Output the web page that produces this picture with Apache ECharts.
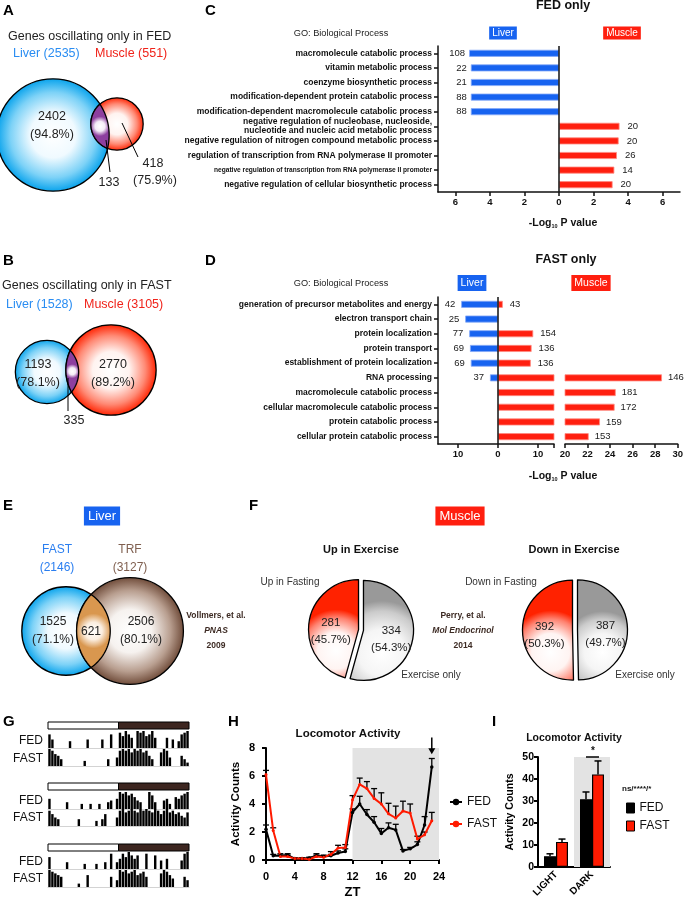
<!DOCTYPE html>
<html>
<head>
<meta charset="utf-8">
<script src="https://cdn.jsdelivr.net/npm/echarts@6/dist/echarts.min.js"></script>
<style>
html, body { margin: 0; padding: 0; background: #fff; }
#main { width: 686px; height: 900px; }
</style>
</head>
<body>
<div id="main"></div>
<script>
const FONT = '"Liberation Sans", Arial, Helvetica, sans-serif';
const BLUE = '#1763f0', RED = '#ff1f0f';

// A / B / E venn counts
const aSets = [2535, 551];          // liver, muscle (FED only)
const aParts = [2402, 133, 418];    // liver only, both, muscle only
const bSets = [1528, 3105];
const bParts = [1193, 335, 2770];
const eSets = [2146, 3127];         // FAST, TRF
const eParts = [1525, 621, 2506];

// C: FED only GO terms
const cTerms = [
    'macromolecule catabolic process',
    'vitamin metabolic process',
    'coenzyme biosynthetic process',
    'modification-dependent protein catabolic process',
    'modification-dependent macromolecule catabolic process',
    'negative regulation of nucleobase, nucleoside,\nnucleotide and nucleic acid metabolic process',
    'negative regulation of nitrogen compound metabolic process',
    'regulation of transcription from RNA polymerase II promoter',
    'negative regulation of transcription from RNA polymerase II promoter',
    'negative regulation of cellular biosynthetic process'
];
const cLiver = [5.2, 5.1, 5.1, 5.1, 5.1, null, null, null, null, null];
const cLiverN = [108, 22, 21, 88, 88, null, null, null, null, null];
const cMuscle = [null, null, null, null, null, 3.5, 3.45, 3.35, 3.2, 3.1];
const cMuscleN = [null, null, null, null, null, 20, 20, 26, 14, 20];
const cTicks = [-6, -4, -2, 0, 2, 4, 6];

// D: FAST only GO terms
const dTerms = [
    'generation of precursor metabolites and energy',
    'electron transport chain',
    'protein localization',
    'protein transport',
    'establishment of protein localization',
    'RNA processing',
    'macromolecule catabolic process',
    'cellular macromolecule catabolic process',
    'protein catabolic process',
    'cellular protein catabolic process'
];
const dLiver = [9.2, 8.2, 7.2, 7.0, 6.8, 2.0, null, null, null, null];
const dLiverN = [42, 25, 77, 69, 69, 37, null, null, null, null];
const dMuscle = [1.2, null, 8.8, 8.4, 8.2, 28.6, 24.5, 24.4, 23.1, 22.1];
const dMuscleN = [43, null, 154, 136, 136, 146, 181, 172, 159, 153];
const dLabels1 = [-10, 0, 10];
const dTicks1 = [-10, 0, 10, 14];

// F: exercise pies
const fUp = [281, 334];
const fDown = [392, 387];

// G: actograms (48 bins per row, 0-10)
const gBins = Array.from({ length: 48 }, (_, i) => i);
const gFed1 = [8,5,0,0,0,0,0,4,0,0, 0,0,0,5,0,0,0,0,5,0, 0,8,0,0,9,7,10,8,6,0, 10,9,10,7,8,10,6,0,0,0, 6,0,5,0,4,8,9,10];
const gFast1 = [10,9,7,6,4,0,0,0,0,0, 0,0,3,0,0,0,0,0,0,0, 4,0,0,5,9,10,9,10,8,10, 9,10,8,9,6,4,0,0,8,10, 9,5,0,0,0,6,4,2];
const gFed2 = [6,0,0,0,0,0,4,0,0,0, 0,3,0,0,3,0,0,3,0,0, 4,5,0,6,10,9,10,8,9,7, 5,4,0,0,10,8,4,0,0,5, 6,3,0,7,6,8,9,10];
const gFast2 = [9,7,5,4,0,0,0,0,0,0, 4,0,0,0,0,0,3,0,4,7, 0,0,0,5,9,10,8,9,10,9, 8,10,9,10,9,8,10,9,7,9, 10,8,9,7,8,6,5,8];
const gFed3 = [7,0,0,0,0,0,4,0,0,0, 0,0,3,0,0,0,3,0,0,4, 0,9,0,4,6,9,7,10,8,6, 8,0,0,9,0,0,8,0,5,0, 6,0,0,0,0,5,9,10];
const gFast3 = [10,9,8,7,6,0,0,0,0,0, 2,0,0,7,0,0,0,0,0,0, 0,6,0,4,10,9,10,8,9,10, 7,8,9,6,0,0,0,0,8,10, 9,7,5,0,0,0,6,4];
const gRows = [gFed1, gFast1, gFed2, gFast2, gFed3, gFast3];

// H: locomotor activity by ZT
const hZt = [0,1,2,3,4,5,6,7,8,9,10,11,12,13,14,15,16,17,18,19,20,21,22,23];
const hFed = [2.2,0.3,0.3,0.35,0.1,0.1,0.15,0.3,0.25,0.3,0.5,0.6,3.4,4.0,3.25,2.7,1.9,2.3,2.15,0.65,0.8,1.1,2.5,6.65];
const hFedErr = [0.3,0.1,0.15,0.1,0.05,0.05,0.05,0.15,0.1,0.1,0.15,0.2,0.25,0.55,0.35,0.4,0.35,0.35,0.4,0.1,0.1,0.2,0.6,0.6];
const hFast = [6.1,2.1,0.25,0.25,0.1,0.1,0.05,0.25,0.2,0.4,0.85,0.9,4.3,5.4,5.1,4.4,4.0,3.3,3.0,3.5,3.35,1.5,1.8,2.8];
const hFastErr = [0.3,0.2,0.1,0.1,0.05,0.05,0.05,0.1,0.1,0.2,0.2,0.2,0.3,0.45,0.5,0.7,0.8,0.75,0.85,0.7,0.65,0.2,0.2,0.6];
const hArrow = [[23, 8.75, 7.55]];   // ZT, arrow top, arrow tip

// I: light / dark totals
const iCats = ['LIGHT', 'DARK'];
const iFed = [4.9, 30.8];
const iFedErr = [1.1, 3.3];
const iFast = [11.4, 42.1];
const iFastErr = [1.3, 6.1];

const chart = echarts.init(document.getElementById('main'));

function radial(stops) {
    return new echarts.graphic.RadialGradient(0.5, 0.5, 0.5, stops.map(([o, c]) => ({ offset: o, color: c })));
}
const blueFill = () => radial([[0, '#ffffff'], [0.4, '#f0faff'], [0.75, '#7dd2f7'], [1, '#06a2ec']]);
const redFill = () => radial([[0, '#ffffff'], [0.4, '#fff3f0'], [0.75, '#ff8a75'], [1, '#ff2200']]);
const brownFill = () => radial([[0, '#ffffff'], [0.4, '#f6f2ef'], [0.75, '#b89e8f'], [1, '#6e4a38']]);
const purpleFill = () => radial([[0, '#ffffff'], [0.5, '#f4ecf7'], [1, '#8d3f9f']]);
const orangeFill = () => radial([[0, '#ffffff'], [0.5, '#fbeee0'], [1, '#d9974f']]);

function txt(x, y, text, o) {
    return {
        type: 'text', x, y, silent: true, z: 50,
        style: Object.assign({ text, fontFamily: FONT, fontSize: 12, fill: '#222', align: 'center', verticalAlign: 'middle' }, o || {})
    };
}
function box(x, y, text, color, size, pad) {
    return txt(x, y, text, { fill: '#fff', backgroundColor: color, fontSize: size, padding: pad });
}
function ln(x1, y1, x2, y2, w) {
    return { type: 'line', silent: true, z: 50, shape: { x1, y1, x2, y2 }, style: { stroke: '#000', lineWidth: w || 1 } };
}
function circ(c, fill) {
    return { type: 'circle', silent: true, z: 10, shape: { cx: c[0], cy: c[1], r: c[2] }, style: { fill, stroke: '#000', lineWidth: 1.3 } };
}
// overlap region of two circles as a polygon
function lens(c1, c2, fill) {
    const dx = c2[0] - c1[0], dy = c2[1] - c1[1], d = Math.hypot(dx, dy);
    const th = Math.atan2(dy, dx);
    const a1 = (d * d + c1[2] * c1[2] - c2[2] * c2[2]) / (2 * d);
    const al1 = Math.acos(a1 / c1[2]);
    const al2 = Math.acos((d - a1) / c2[2]);
    const pts = [];
    for (let i = 0; i <= 40; i++) {
        const a = th - al1 + 2 * al1 * i / 40;
        pts.push([c1[0] + c1[2] * Math.cos(a), c1[1] + c1[2] * Math.sin(a)]);
    }
    for (let i = 0; i <= 40; i++) {
        const a = th + Math.PI - al2 + 2 * al2 * i / 40;
        pts.push([c2[0] + c2[2] * Math.cos(a), c2[1] + c2[2] * Math.sin(a)]);
    }
    return { type: 'polygon', silent: true, z: 11, shape: { points: pts }, style: { fill, stroke: '#000', lineWidth: 1.3 } };
}
const pct = (part, whole) => '(' + (part / whole * 100).toFixed(1) + '%)';

// venn circles, area proportional to the set size
const aL = [53, 135, 1.115 * Math.sqrt(aSets[0])], aM = [117, 124, 1.115 * Math.sqrt(aSets[1])];
const bL = [47, 372, 0.81 * Math.sqrt(bSets[0])], bM = [111, 370, 0.81 * Math.sqrt(bSets[1])];
const eF = [66, 631, 0.955 * Math.sqrt(eSets[0])], eT = [130, 631, 0.955 * Math.sqrt(eSets[1])];

const letter = (x, y, s) => txt(x, y, s, { fontSize: 15, fontWeight: 'bold', fill: '#000', align: 'left' });
const logTitle = (x, y) => txt(x, y, '-Log{s|10} P value', {
    fontSize: 10.5, fontWeight: 'bold', fill: '#111',
    rich: { s: { fontSize: 5.5, fontWeight: 'bold', fontFamily: FONT, fill: '#111', verticalAlign: 'bottom', padding: [6, 0, 0, 0] } }
});

const graphics = [
    letter(3, 11, 'A'), letter(205, 11, 'C'), letter(3, 261, 'B'), letter(205, 261, 'D'),
    letter(3, 506, 'E'), letter(249, 506, 'F'), letter(3, 722, 'G'), letter(228, 722, 'H'), letter(492, 722, 'I'),

    // A
    txt(8, 37, 'Genes oscillating only in FED', { align: 'left', fontSize: 12.5 }),
    txt(13, 54, `Liver (${aSets[0]})`, { align: 'left', fontSize: 12.5, fill: '#2a8df2' }),
    txt(95, 54, `Muscle (${aSets[1]})`, { align: 'left', fontSize: 12.5, fill: '#f0231a' }),
    circ(aL, blueFill()), circ(aM, redFill()), lens(aL, aM, purpleFill()),
    txt(52, 117, String(aParts[0]), { fontSize: 12.5 }), txt(52, 135, pct(aParts[0], aSets[0]), { fontSize: 12.5 }),
    ln(106, 140, 110, 172), txt(109, 183, String(aParts[1]), { fontSize: 12.5 }),
    ln(122, 123, 138, 157), txt(153, 164, String(aParts[2]), { fontSize: 12.5 }), txt(155, 181, pct(aParts[2], aSets[1]), { fontSize: 12.5 }),

    // B
    txt(2, 286, 'Genes oscillating only in FAST', { align: 'left', fontSize: 12.5 }),
    txt(6, 305, `Liver (${bSets[0]})`, { align: 'left', fontSize: 12.5, fill: '#2a8df2' }),
    txt(84, 305, `Muscle (${bSets[1]})`, { align: 'left', fontSize: 12.5, fill: '#f0231a' }),
    circ(bL, blueFill()), circ(bM, redFill()), lens(bL, bM, purpleFill()),
    txt(38, 365, String(bParts[0]), { fontSize: 12.5 }), txt(38, 383, pct(bParts[0], bSets[0]), { fontSize: 12.5 }),
    txt(113, 365, String(bParts[2]), { fontSize: 12.5 }), txt(113, 383, pct(bParts[2], bSets[1]), { fontSize: 12.5 }),
    ln(68, 378, 68, 411), txt(74, 421, String(bParts[1]), { fontSize: 12.5 }),

    // C headers
    txt(563, 6, 'FED only', { fontSize: 12.5, fontWeight: 'bold', fill: '#111' }),
    txt(341, 33, 'GO: Biological Process', { fontSize: 9.2 }),
    box(503, 33, 'Liver', BLUE, 10, [2, 3, 1, 3]), box(622, 33, 'Muscle', RED, 10, [2, 3, 1, 3]),
    logTitle(563, 223),

    // D headers
    txt(566, 260, 'FAST only', { fontSize: 12.5, fontWeight: 'bold', fill: '#111' }),
    txt(341, 283, 'GO: Biological Process', { fontSize: 9.2 }),
    box(472, 283, 'Liver', BLUE, 10.5, [3, 3, 2, 3]), box(591, 283, 'Muscle', RED, 10.5, [3, 3, 2, 3]),
    logTitle(563, 476),

    // E
    box(102, 516, 'Liver', BLUE, 13, [3, 4, 3, 4]),
    txt(57, 550, 'FAST', { fill: '#2a7ef0' }), txt(57, 568, `(${eSets[0]})`, { fill: '#2a7ef0' }),
    txt(130, 550, 'TRF', { fill: '#7f5f4f' }), txt(130, 568, `(${eSets[1]})`, { fill: '#7f5f4f' }),
    circ(eF, blueFill()), circ(eT, brownFill()), lens(eF, eT, orangeFill()),
    txt(53, 622, String(eParts[0])), txt(53, 640, pct(eParts[0], eSets[0])),
    txt(91, 632, String(eParts[1])),
    txt(141, 622, String(eParts[2])), txt(141, 640, pct(eParts[2], eSets[1])),
    txt(216, 616, 'Vollmers, et al.', { fontSize: 8.5, fontWeight: 'bold', fill: '#3d2b24' }),
    txt(216, 631, 'PNAS', { fontSize: 8.5, fontWeight: 'bold', fontStyle: 'italic', fill: '#3d2b24' }),
    txt(216, 646, '2009', { fontSize: 8.5, fontWeight: 'bold', fill: '#3d2b24' }),

    // F
    box(460, 516, 'Muscle', RED, 13, [3, 4, 3, 4]),
    txt(361, 550, 'Up in Exercise', { fontSize: 11, fontWeight: 'bold', fill: '#111' }),
    txt(574, 550, 'Down in Exercise', { fontSize: 11, fontWeight: 'bold', fill: '#111' }),
    txt(290, 582, 'Up in Fasting', { fontSize: 10, fill: '#333' }),
    txt(501, 582, 'Down in Fasting', { fontSize: 10, fill: '#333' }),
    txt(431, 675, 'Exercise only', { fontSize: 10, fill: '#333' }),
    txt(645, 675, 'Exercise only', { fontSize: 10, fill: '#333' }),
    txt(463, 616, 'Perry, et al.', { fontSize: 8.5, fontWeight: 'bold', fill: '#3d2b24' }),
    txt(463, 631, 'Mol Endocrinol', { fontSize: 8.5, fontWeight: 'bold', fontStyle: 'italic', fill: '#3d2b24' }),
    txt(463, 646, '2014', { fontSize: 8.5, fontWeight: 'bold', fill: '#3d2b24' }),

    // H / I titles
    txt(348, 734, 'Locomotor Activity', { fontSize: 11.5, fontWeight: 'bold', fill: '#111' }),
    txt(574, 738, 'Locomotor Activity', { fontSize: 10.5, fontWeight: 'bold', fill: '#111' }),
    ln(586, 757, 599, 757, 1.5), txt(593, 751, '*', { fontSize: 10, fontWeight: 'bold', fill: '#111' }),
    txt(622, 789, 'ns/****/*', { fontSize: 8, fontWeight: 'bold', fill: '#111', align: 'left' })
];

// G: light/dark bars and row labels
[722, 783, 844].forEach(y => {
    graphics.push({ type: 'rect', silent: true, shape: { x: 48, y, width: 70.5, height: 7 }, style: { fill: '#fff', stroke: '#000', lineWidth: 1 } });
    graphics.push({ type: 'rect', silent: true, shape: { x: 118.5, y, width: 70.5, height: 7 }, style: { fill: '#3d2620', stroke: '#000', lineWidth: 1 } });
});
[[741, 'FED'], [759, 'FAST'], [801, 'FED'], [818, 'FAST'], [862, 'FED'], [879, 'FAST']].forEach(([y, s]) => {
    graphics.push(txt(43, y, s, { fontSize: 12, align: 'right', fill: '#111' }));
});

// grids
const grids = [
    { left: 438, top: 46, width: 242, height: 146 },   // C
    { left: 438, top: 297, width: 116, height: 147 },  // D left segment
    { left: 565, top: 297, width: 116, height: 147 },  // D right segment
    { left: 266, top: 748, width: 173, height: 113 },  // H
    { left: 538, top: 757, width: 72, height: 110 }    // I
];
const gTops = [731, 749, 792, 809, 852, 870];
gTops.forEach(t => grids.push({ left: 48, top: t, width: 141, height: 17 }));

const axLine = { show: true, lineStyle: { color: '#111', width: 1.5 } };
const axTick = { show: true, length: 4, lineStyle: { color: '#111', width: 1.5 } };
const tickLbl = { fontFamily: FONT, fontWeight: 'bold', fontSize: 9.5, color: '#111', margin: 5 };
const catLbl = {
    fontFamily: FONT, fontWeight: 'bold', fontSize: 8.5, color: '#111', margin: 6, lineHeight: 9.5,
    rich: { s: { fontFamily: FONT, fontWeight: 'bold', fontSize: 6.6, color: '#111' } }
};
const prismLine = { show: true, lineStyle: { color: '#000', width: 2 } };
const prismTick = { show: true, length: 4, lineStyle: { color: '#000', width: 2 } };
const prismLbl = { fontFamily: FONT, fontWeight: 'bold', fontSize: 11, color: '#000', margin: 4 };

const xAxes = [
    { gridIndex: 0, type: 'value', min: -7, max: 7, splitLine: { show: false }, axisLine: axLine,
      axisTick: Object.assign({ customValues: cTicks }, axTick),
      axisLabel: Object.assign({ customValues: cTicks, formatter: v => Math.abs(v) }, tickLbl) },
    { gridIndex: 1, type: 'value', min: -15, max: 14, splitLine: { show: false }, axisLine: axLine,
      axisTick: Object.assign({ customValues: dTicks1 }, axTick),
      axisLabel: Object.assign({ customValues: dLabels1, formatter: v => Math.abs(v) }, tickLbl) },
    { gridIndex: 2, type: 'value', min: 20, max: 30, interval: 2, splitLine: { show: false }, axisLine: axLine,
      axisTick: axTick, axisLabel: tickLbl },
    { gridIndex: 3, type: 'value', min: 0, max: 24, interval: 4, offset: 7, splitLine: { show: false },
      axisLine: prismLine, axisTick: prismTick, axisLabel: prismLbl,
      name: 'ZT', nameLocation: 'middle', nameGap: 19,
      nameTextStyle: { fontFamily: FONT, fontWeight: 'bold', fontSize: 13, color: '#000' } },
    { gridIndex: 4, type: 'category', data: iCats, axisLine: prismLine, axisTick: { show: false },
      axisLabel: Object.assign({}, prismLbl, { rotate: 45, fontSize: 10, interval: 0, margin: 6 }) },
    { gridIndex: 4, type: 'category', data: iCats, show: false }
];
const yAxes = [
    { gridIndex: 0, type: 'category', data: cTerms, inverse: true,
      axisLine: Object.assign({ onZero: false }, axLine), axisTick: Object.assign({ alignWithLabel: true }, axTick),
      axisLabel: Object.assign({ formatter: (v, i) => i === 8 ? '{s|' + v + '}' : v }, catLbl) },
    { gridIndex: 1, type: 'category', data: dTerms, inverse: true,
      axisLine: Object.assign({ onZero: false }, axLine), axisTick: Object.assign({ alignWithLabel: true }, axTick),
      axisLabel: catLbl },
    { gridIndex: 2, type: 'category', data: dTerms, inverse: true, show: false },
    { gridIndex: 3, type: 'value', min: 0, max: 8, interval: 2, offset: 7, splitLine: { show: false },
      axisLine: prismLine, axisTick: prismTick, axisLabel: prismLbl,
      name: 'Activity Counts', nameLocation: 'middle', nameGap: 17,
      nameTextStyle: { fontFamily: FONT, fontWeight: 'bold', fontSize: 11.5, color: '#000' } },
    { gridIndex: 4, type: 'value', min: 0, max: 50, interval: 10, splitLine: { show: false },
      axisLine: prismLine, axisTick: prismTick, axisLabel: Object.assign({}, prismLbl, { fontSize: 10.5 }),
      name: 'Activity Counts', nameLocation: 'middle', nameGap: 22,
      nameTextStyle: { fontFamily: FONT, fontWeight: 'bold', fontSize: 10.5, color: '#000' } }
];
gRows.forEach((row, k) => {
    xAxes.push({ gridIndex: 5 + k, type: 'category', data: gBins, axisLabel: { show: false }, axisTick: { show: false },
                 axisLine: { show: true, lineStyle: { color: '#c8c8c8', width: 0.8 } } });
    yAxes.push({ gridIndex: 5 + k, type: 'value', min: 0, max: 10, show: false });
});

const valLbl = { show: true, fontFamily: FONT, fontSize: 9.5, color: '#222' };
const zeroLine = {
    silent: true, symbol: ['none', 'none'], label: { show: false },
    lineStyle: { color: '#111', width: 1.5, type: 'solid' }, data: [{ xAxis: 0 }]
};
const blueBar = { color: BLUE, borderColor: '#86a9f7', borderWidth: 0.8 };
const redBar = { color: RED, borderColor: '#ff8a80', borderWidth: 0.8 };
const dash = v => (v == null ? '-' : v);

function hErr(name, vals, errs) {
    return {
        type: 'custom', name, xAxisIndex: 3, yAxisIndex: 3, silent: true, z: 3,
        encode: { x: 0, y: 1 },
        data: vals.map((v, i) => [hZt[i], v, errs[i]]),
        renderItem: (params, api) => {
            const p = api.coord([api.value(0), api.value(1)]);
            const t = api.coord([api.value(0), api.value(1) + api.value(2)]);
            const st = { stroke: '#000', lineWidth: 1.3 };
            return { type: 'group', children: [
                { type: 'line', shape: { x1: p[0], y1: p[1], x2: t[0], y2: t[1] }, style: st },
                { type: 'line', shape: { x1: t[0] - 3, y1: t[1], x2: t[0] + 3, y2: t[1] }, style: st }
            ] };
        }
    };
}
function iErr(name, vals, errs, off) {
    return {
        type: 'custom', name, xAxisIndex: 4, yAxisIndex: 4, silent: true, z: 4,
        encode: { x: 0, y: 1 },
        data: vals.map((v, i) => [i, v, errs[i]]),
        renderItem: (params, api) => {
            const p = api.coord([api.value(0), api.value(1)]);
            const t = api.coord([api.value(0), api.value(1) + api.value(2)]);
            const x = p[0] + off;
            const st = { stroke: '#000', lineWidth: 1.5 };
            return { type: 'group', children: [
                { type: 'line', shape: { x1: x, y1: p[1], x2: x, y2: t[1] }, style: st },
                { type: 'line', shape: { x1: x - 3.5, y1: t[1], x2: x + 3.5, y2: t[1] }, style: st }
            ] };
        }
    };
}
function pieSeries(center, vals) {
    const redSlice = new echarts.graphic.RadialGradient(0.55, 0.72, 0.8, [
        { offset: 0, color: '#ffffff' }, { offset: 0.45, color: '#fff4f2' }, { offset: 0.8, color: '#ff8270' }, { offset: 1, color: '#ff2200' }]);
    const greySlice = new echarts.graphic.RadialGradient(0.5, 0.72, 0.8, [
        { offset: 0, color: '#ffffff' }, { offset: 0.45, color: '#f5f5f5' }, { offset: 0.8, color: '#cbcbcb' }, { offset: 1, color: '#999999' }]);
    return {
        type: 'pie', center, radius: 50, startAngle: 90, clockwise: false, silent: true,
        selectedMode: 'multiple', selectedOffset: 2.5, percentPrecision: 1,
        itemStyle: { borderColor: '#000', borderWidth: 1.3 },
        label: { position: 'inside', formatter: '{c}\n({d}%)', fontFamily: FONT, fontSize: 11.5, lineHeight: 17, color: '#222' },
        labelLayout: { dy: 5 },
        labelLine: { show: false },
        emphasis: { disabled: true },
        data: [
            { value: vals[0], selected: true, itemStyle: { color: redSlice } },
            { value: vals[1], selected: true, itemStyle: { color: greySlice } }
        ]
    };
}

const series = [
    // C
    { type: 'bar', name: 'cLiver', xAxisIndex: 0, yAxisIndex: 0, barWidth: 7, silent: true,
      data: cLiver.map(v => (v == null ? '-' : -v)), itemStyle: blueBar,
      label: Object.assign({ position: 'left', distance: 4, formatter: p => cLiverN[p.dataIndex] ?? '' }, valLbl),
      markLine: zeroLine },
    { type: 'bar', name: 'cMuscle', xAxisIndex: 0, yAxisIndex: 0, barWidth: 7, barGap: '-100%', silent: true,
      data: cMuscle.map(dash), itemStyle: redBar,
      label: Object.assign({ position: 'right', distance: 8, formatter: p => cMuscleN[p.dataIndex] ?? '' }, valLbl) },
    // D, left segment
    { type: 'bar', name: 'dLiver', xAxisIndex: 1, yAxisIndex: 1, barWidth: 7, silent: true,
      data: dLiver.map(v => (v == null ? '-' : -v)), itemStyle: blueBar,
      label: Object.assign({ position: 'left', distance: 6, formatter: p => dLiverN[p.dataIndex] ?? '' }, valLbl),
      markLine: zeroLine },
    { type: 'bar', name: 'dMuscle', xAxisIndex: 1, yAxisIndex: 1, barWidth: 7, barGap: '-100%', silent: true,
      data: dMuscle.map(dash), itemStyle: redBar,
      label: Object.assign({ position: 'right', distance: 7,
        formatter: p => (dMuscle[p.dataIndex] != null && dMuscle[p.dataIndex] <= 14 ? dMuscleN[p.dataIndex] : '') }, valLbl) },
    // D, right segment of the broken axis
    { type: 'bar', name: 'dMuscle2', xAxisIndex: 2, yAxisIndex: 2, barWidth: 7, silent: true,
      data: dMuscle.map(v => (v != null && v > 20 ? v : '-')), itemStyle: redBar,
      label: Object.assign({ position: 'right', distance: 6, formatter: p => dMuscleN[p.dataIndex] ?? '' }, valLbl) },
    // H
    { type: 'line', name: 'FED', xAxisIndex: 3, yAxisIndex: 3, silent: true,
      data: hFed.map((v, i) => [hZt[i], v]),
      symbol: 'circle', symbolSize: 3.5, color: '#000', lineStyle: { width: 2, color: '#000' },
      markArea: { silent: true, itemStyle: { color: '#e3e3e3' }, data: [[{ xAxis: 12 }, { xAxis: 24 }]] } },
    { type: 'line', name: 'FAST', xAxisIndex: 3, yAxisIndex: 3, silent: true,
      data: hFast.map((v, i) => [hZt[i], v]),
      symbol: 'circle', symbolSize: 3, color: '#ff1a00', lineStyle: { width: 2, color: '#ff1a00' } },
    hErr('fedErr', hFed, hFedErr),
    hErr('fastErr', hFast, hFastErr),
    { type: 'custom', name: 'arrow', xAxisIndex: 3, yAxisIndex: 3, silent: true, z: 5, clip: false,
      encode: { x: 0, y: 1 }, data: hArrow,
      renderItem: (params, api) => {
          const a = api.coord([api.value(0), api.value(1)]);
          const b = api.coord([api.value(0), api.value(2)]);
          return { type: 'group', children: [
              { type: 'line', shape: { x1: a[0], y1: a[1], x2: b[0], y2: b[1] - 4 }, style: { stroke: '#000', lineWidth: 1.5 } },
              { type: 'polygon', shape: { points: [[b[0] - 3.5, b[1] - 6], [b[0] + 3.5, b[1] - 6], [b[0], b[1]]] }, style: { fill: '#000' } }
          ] };
      } },
    // I
    { type: 'bar', name: 'darkShade', xAxisIndex: 5, yAxisIndex: 4, silent: true, z: 1, barWidth: '100%',
      data: ['-', 50], itemStyle: { color: '#e3e3e3' } },
    { type: 'bar', name: 'FED', xAxisIndex: 4, yAxisIndex: 4, silent: true, barWidth: 12, barGap: '0%',
      data: iFed, itemStyle: { color: '#000', borderColor: '#000', borderWidth: 1.2 } },
    { type: 'bar', name: 'FAST', xAxisIndex: 4, yAxisIndex: 4, silent: true, barWidth: 12, barGap: '0%',
      data: iFast, itemStyle: { color: '#ff1a00', borderColor: '#000', borderWidth: 1.2 } },
    iErr('iFedErr', iFed, iFedErr, -6),
    iErr('iFastErr', iFast, iFastErr, 6),
    // F
    pieSeries([361, 630], fUp),
    pieSeries([575, 630], fDown)
];
// G actogram rows
gRows.forEach((row, k) => {
    series.push({ type: 'bar', xAxisIndex: 6 + k, yAxisIndex: 5 + k, silent: true, barCategoryGap: '18%',
                  data: row, itemStyle: { color: '#000' } });
});

const option = {
    animation: false,
    backgroundColor: '#fff',
    textStyle: { fontFamily: FONT },
    grid: grids,
    xAxis: xAxes,
    yAxis: yAxes,
    legend: [
        { data: ['FED', 'FAST'], left: 444, top: 791, orient: 'vertical', itemGap: 10, itemWidth: 12, itemHeight: 8,
          selectedMode: false, textStyle: { fontFamily: FONT, fontSize: 12, color: '#111' } },
        { data: [
              { name: 'FED', icon: 'rect', itemStyle: { color: '#000', borderColor: '#000', borderWidth: 1 } },
              { name: 'FAST', icon: 'rect', itemStyle: { color: '#ff1a00', borderColor: '#000', borderWidth: 1 } }],
          left: 621, top: 797, orient: 'vertical', itemGap: 6, itemWidth: 8, itemHeight: 10,
          selectedMode: false, textStyle: { fontFamily: FONT, fontSize: 12, color: '#111' } }
    ],
    graphic: { elements: graphics },
    series
};

chart.setOption(option);
</script>
</body>
</html>
